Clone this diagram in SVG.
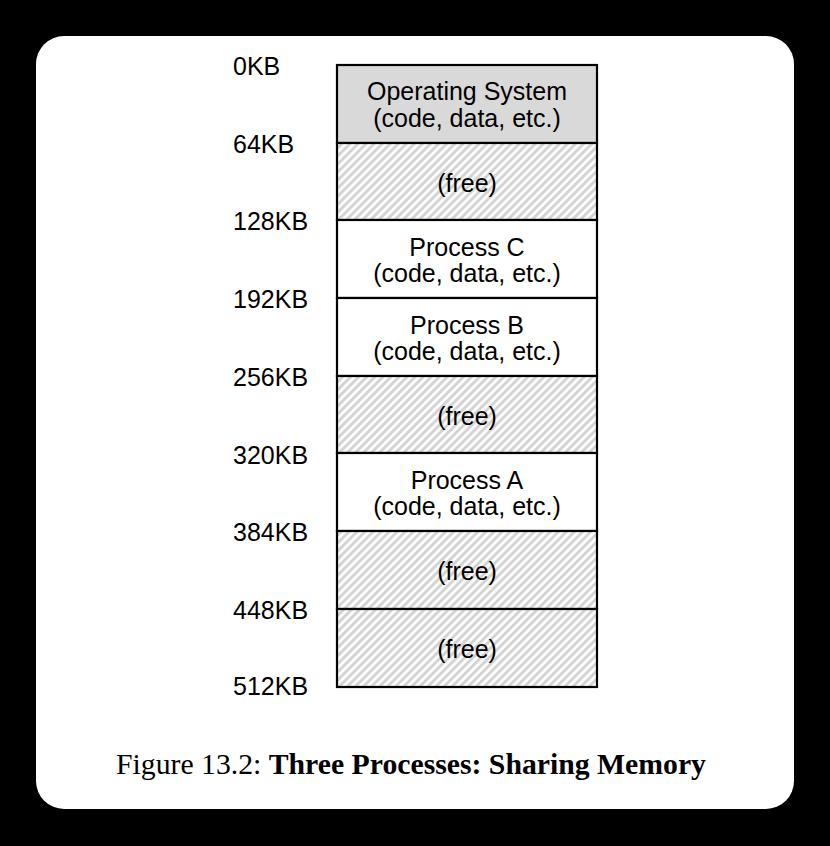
<svg xmlns="http://www.w3.org/2000/svg" width="830" height="846" viewBox="0 0 830 846">
<style>
.lbl{font-family:"Liberation Sans",Arial,sans-serif;font-size:25px;fill:#000}
.txt{font-family:"Liberation Sans",Arial,sans-serif;font-size:25px;fill:#000;text-anchor:middle}
.cell{stroke:#000;stroke-width:2.2}
.cap{font-family:"Liberation Serif","Times New Roman",serif;font-size:29.5px;fill:#000}
</style>
<defs>
<pattern id="hatch" patternUnits="userSpaceOnUse" width="5.7" height="10" patternTransform="rotate(45)">
<rect width="5.7" height="10" fill="#fcfcfc"/>
<rect width="2.8" height="10" fill="#d3d3d3"/>
</pattern>
</defs>
<rect x="0" y="0" width="830" height="846" fill="#000"/>
<rect x="36" y="36" width="758" height="773" rx="28" fill="#fff"/>
<g id="os"><rect class="cell" x="337" y="65" width="260" height="78" fill="#d9d9d9"/><text class="txt" x="467" y="100">Operating System</text><text class="txt" x="467" y="127">(code, data, etc.)</text></g>
<g id="free1"><rect class="cell" x="337" y="143" width="260" height="77" fill="url(#hatch)"/><text class="txt" x="467" y="192">(free)</text></g>
<g id="procC"><rect class="cell" x="337" y="220" width="260" height="78" fill="#fff"/><text class="txt" x="467" y="256">Process C</text><text class="txt" x="467" y="282">(code, data, etc.)</text></g>
<g id="procB"><rect class="cell" x="337" y="298" width="260" height="78" fill="#fff"/><text class="txt" x="467" y="334">Process B</text><text class="txt" x="467" y="360">(code, data, etc.)</text></g>
<g id="free2"><rect class="cell" x="337" y="376" width="260" height="77" fill="url(#hatch)"/><text class="txt" x="467" y="425">(free)</text></g>
<g id="procA"><rect class="cell" x="337" y="453" width="260" height="78" fill="#fff"/><text class="txt" x="467" y="489">Process A</text><text class="txt" x="467" y="515">(code, data, etc.)</text></g>
<g id="free3"><rect class="cell" x="337" y="531" width="260" height="78" fill="url(#hatch)"/><text class="txt" x="467" y="580">(free)</text></g>
<g id="free4"><rect class="cell" x="337" y="609" width="260" height="78" fill="url(#hatch)"/><text class="txt" x="467" y="658">(free)</text></g>
<g id="labels">
<text class="lbl" x="233" y="75">0KB</text>
<text class="lbl" x="233" y="153">64KB</text>
<text class="lbl" x="233" y="230">128KB</text>
<text class="lbl" x="233" y="308">192KB</text>
<text class="lbl" x="233" y="386">256KB</text>
<text class="lbl" x="233" y="464">320KB</text>
<text class="lbl" x="233" y="541">384KB</text>
<text class="lbl" x="233" y="619">448KB</text>
<text class="lbl" x="233" y="695">512KB</text>
</g>
<g id="connectors"></g>
<text class="cap" x="116" y="774" textLength="590" lengthAdjust="spacingAndGlyphs">Figure 13.2: <tspan font-weight="bold">Three Processes: Sharing Memory</tspan></text>
</svg>
